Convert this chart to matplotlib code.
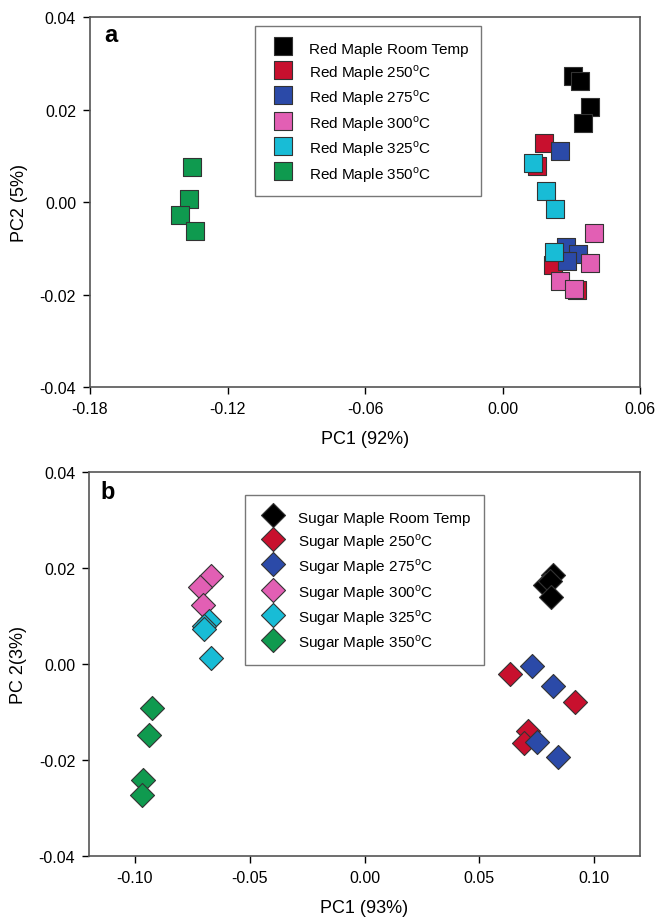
import matplotlib
matplotlib.use('Agg')
import matplotlib.pyplot as plt

# ---- panel a: red maple (squares) ----
red_labels = ['Red Maple Room Temp', 'Red Maple 250$^{\\rm o}$C', 'Red Maple 275$^{\\rm o}$C',
              'Red Maple 300$^{\\rm o}$C', 'Red Maple 325$^{\\rm o}$C', 'Red Maple 350$^{\\rm o}$C']
red_pc1 = [
    [0.0305, 0.0336, 0.0380, 0.0349],
    [0.0179, 0.0150, 0.0218, 0.0325],
    [0.0249, 0.0275, 0.0330, 0.0280],
    [0.0397, 0.0380, 0.0249, 0.0310],
    [0.0131, 0.0188, 0.0227, 0.0223],
    [-0.1357, -0.1370, -0.1409, -0.1340],
]
red_pc2 = [
    [0.0272, 0.0262, 0.0205, 0.0171],
    [0.0128, 0.0079, -0.0136, -0.0190],
    [0.0110, -0.0098, -0.0112, -0.0127],
    [-0.0067, -0.0132, -0.0171, -0.0188],
    [0.0084, 0.0024, -0.0015, -0.0108],
    [0.0076, 0.0006, -0.0028, -0.0063],
]

# ---- panel b: sugar maple (diamonds) ----
sugar_labels = ['Sugar Maple Room Temp', 'Sugar Maple 250$^{\\rm o}$C', 'Sugar Maple 275$^{\\rm o}$C',
                'Sugar Maple 300$^{\\rm o}$C', 'Sugar Maple 325$^{\\rm o}$C', 'Sugar Maple 350$^{\\rm o}$C']
sugar_pc1 = [
    [0.0820, 0.0785, 0.0810, 0.0812],
    [0.0633, 0.0917, 0.0712, 0.0694],
    [0.0729, 0.0821, 0.0751, 0.0843],
    [-0.0670, -0.0716, -0.0703],
    [-0.0677, -0.0699, -0.0700, -0.0668],
    [-0.0926, -0.0940, -0.0965, -0.0970],
]
sugar_pc2 = [
    [0.0185, 0.0165, 0.0172, 0.0139],
    [-0.0021, -0.0079, -0.0140, -0.0165],
    [-0.0004, -0.0045, -0.0163, -0.0193],
    [0.0183, 0.0160, 0.0123],
    [0.0090, 0.0079, 0.0072, 0.0013],
    [-0.0092, -0.0148, -0.0241, -0.0273],
]

red_xticks = ['-0.18', '-0.12', '-0.06', '0.00', '0.06']
sugar_xticks = ['-0.10', '-0.05', '0.00', '0.05', '0.10']
yticks = ['-0.04', '-0.02', '0.00', '0.02', '0.04']

colors = ['#000000', '#c8102e', '#2b4aa8', '#e25fb4', '#18bcd6', '#0f9a4f']

plt.rcParams['font.family'] = ['Liberation Sans', 'DejaVu Sans']
plt.rcParams['mathtext.fontset'] = 'custom'
plt.rcParams['mathtext.rm'] = 'Liberation Sans'
plt.rcParams['xtick.labelsize'] = 11.5
plt.rcParams['ytick.labelsize'] = 11.5

fig = plt.figure(figsize=(6.55, 9.2), dpi=100)
ax1 = fig.add_axes([0.1374, 0.5783, 0.840, 0.402])
ax2 = fig.add_axes([0.1359, 0.0685, 0.8412, 0.4174])


def style_axes(ax):
    for sp in ax.spines.values():
        sp.set_linewidth(1.2)
        sp.set_color('#555555')
    ax.tick_params(direction='out', length=5, width=1, pad=5, top=False, right=False)


def add_legend(ax, anchor):
    leg = ax.legend(loc='upper left', bbox_to_anchor=anchor, fontsize=11, frameon=True,
                    fancybox=False, edgecolor='#555555', borderpad=0.85, labelspacing=0.37,
                    handleheight=1.4, handlelength=2.0, handletextpad=0.65,
                    borderaxespad=0, scatterpoints=1)
    leg.get_frame().set_linewidth(1.0)
    return leg


style_axes(ax1)
for i in range(6):
    ax1.scatter(red_pc1[i], red_pc2[i], marker='s', s=150, color=colors[i],
                edgecolors='#333333', linewidths=0.8, label=red_labels[i], zorder=3)
ax1.set_xlim(-0.18, 0.06)
ax1.set_ylim(-0.04, 0.04)
ax1.set_xticks([float(t) for t in red_xticks])
ax1.set_yticks([float(t) for t in yticks])
ax1.set_xticklabels(red_xticks, fontsize=11.5)
ax1.set_yticklabels(yticks, fontsize=11.5)
ax1.set_xlabel('PC1 (92%)', fontsize=13, labelpad=10)
ax1.set_ylabel('PC2 (5%)', fontsize=13, labelpad=8)
ax1.text(0.038, 0.954, 'a', transform=ax1.transAxes, fontsize=17, fontweight='bold',
         ha='center', va='center')
add_legend(ax1, (0.30, 0.9757))

style_axes(ax2)
for i in range(6):
    ax2.scatter(sugar_pc1[i], sugar_pc2[i], marker='D', s=150, color=colors[i],
                edgecolors='#333333', linewidths=0.8, label=sugar_labels[i], zorder=3)
ax2.set_xlim(-0.12, 0.12)
ax2.set_ylim(-0.04, 0.04)
ax2.set_xticks([float(t) for t in sugar_xticks])
ax2.set_yticks([float(t) for t in yticks])
ax2.set_xticklabels(sugar_xticks, fontsize=11.5)
ax2.set_yticklabels(yticks, fontsize=11.5)
ax2.set_xlabel('PC1 (93%)', fontsize=13, labelpad=10)
ax2.set_ylabel('PC 2(3%)', fontsize=13, labelpad=8)
ax2.text(0.0345, 0.948, 'b', transform=ax2.transAxes, fontsize=17, fontweight='bold',
         ha='center', va='center')
add_legend(ax2, (0.283, 0.940))

fig.savefig('out.png', dpi=100)
